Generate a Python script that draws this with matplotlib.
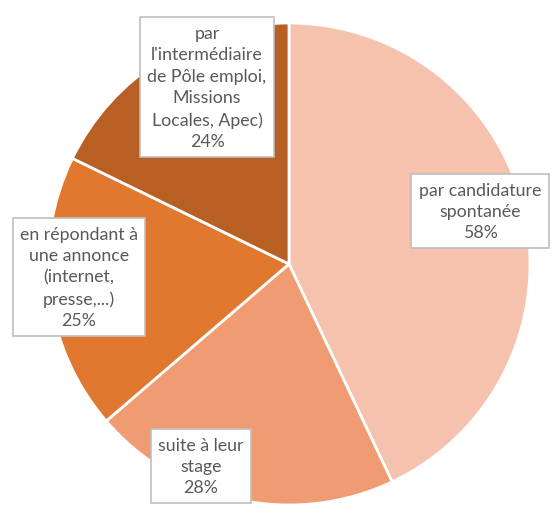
import matplotlib.pyplot as plt

# donnees
labels = ["par candidature\nspontanée", "suite à leur\nstage",
          "en répondant à\nune annonce\n(internet,\npresse,...)",
          "par\nl'intermédiaire\nde Pôle emploi,\nMissions\nLocales, Apec)"]
values = [58, 28, 25, 24]
colors = ["#F5C2AE", "#F09B71", "#E0782F", "#B85F24"]
# centres des etiquettes (pixels de l'image, origine en haut)
label_pos = [(480, 212), (201, 467), (79, 278), (207, 88)]

W, H = 557, 506
fig = plt.figure(figsize=(W / 100, H / 100), dpi=100)
cx, cy, r = 289, 265, 241
ax = fig.add_axes([(cx - r) / W, (H - cy - r) / H, 2 * r / W, 2 * r / H])
ax.pie(values, colors=colors, startangle=90, counterclock=False,
       wedgeprops=dict(edgecolor="white", linewidth=2))
ax.set_xlim(-1, 1)
ax.set_ylim(-1, 1)
ax.set_aspect("equal")
ax.axis("off")

for lab, v, (px, py) in zip(labels, values, label_pos):
    fig.text(px / W, 1 - py / H, f"{lab}\n{v}%", ha="center", va="center",
             fontsize=12.8, family="Lato", color="#595959", linespacing=1.42,
             bbox=dict(boxstyle="square,pad=0.42", fc="white", ec="#BFBFBF", lw=1.2))

fig.savefig("out.png", dpi=100)
